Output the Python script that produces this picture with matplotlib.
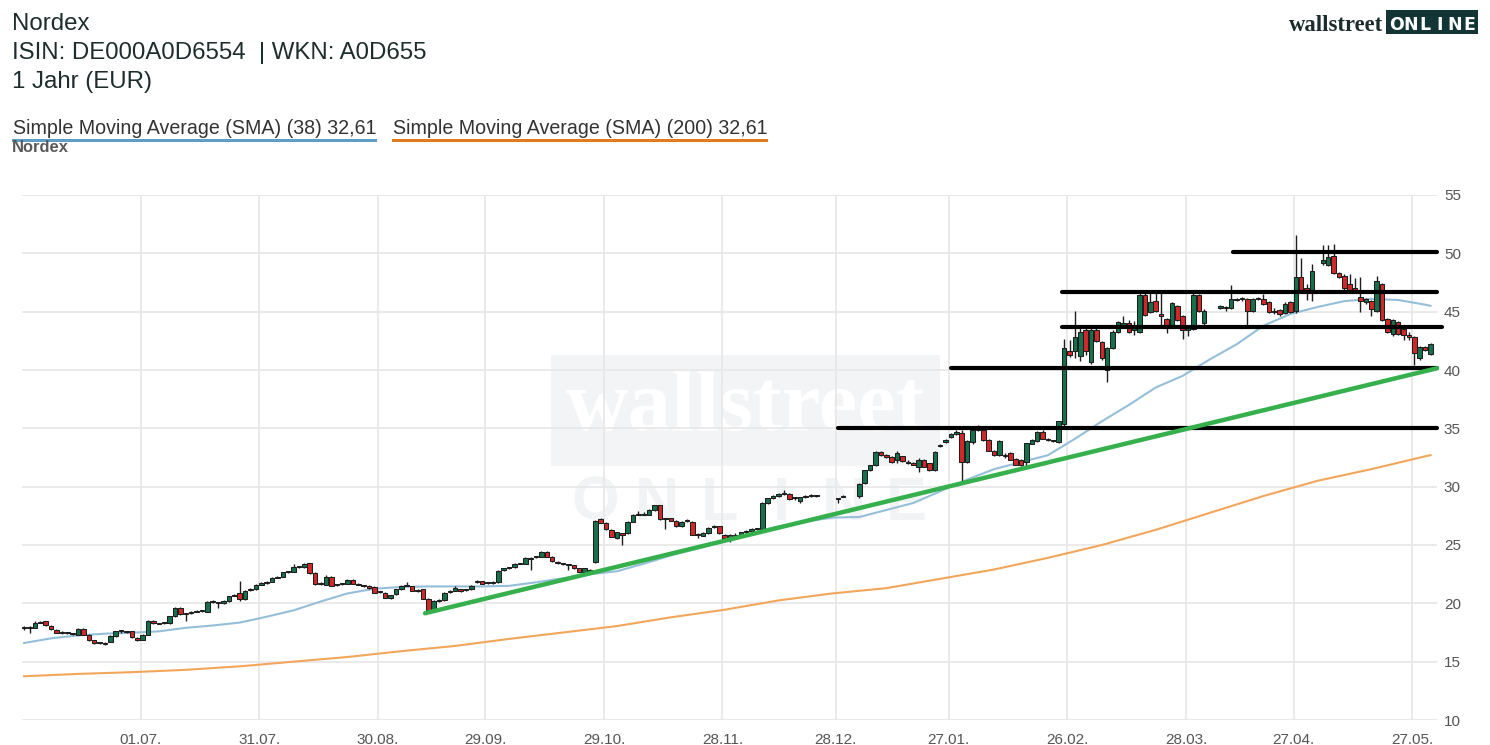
import numpy as np
import pandas as pd
import matplotlib
matplotlib.use("Agg")
import matplotlib.pyplot as plt
from matplotlib.patches import Rectangle

N = None
# ---------------- data (daily candles, one per weekday starting 2025-05-30) ----------------
opens = [
 17.85, 18.0, 17.9, 18.35, 18.45, 18.1, 17.75, 17.5, 17.45, 17.4,
 17.3, 17.8, 17.3, 16.85, 16.6, 16.55, 16.7, 17.2, 17.6, 17.6,
 17.6, 17.05, 16.9, 17.3, 18.5, 18.3, 18.3, 18.3, 18.9, 19.6,
 19.05, 19.2, 19.3, 19.35, 19.3, 20.15, 20.05, 20.0, 20.2, 20.65,
 20.85, 20.35, 21.15, 21.2, 21.6, 21.75, 21.85, 22.2, 22.3, 22.65,
 22.7, 23.1, 23.1, 23.45, 22.6, 21.7, 21.6, 22.3, 21.55, 21.65,
 21.7, 22.0, 21.7, 21.55, 21.5, 21.4, 20.95, 20.9, 20.45, 20.8,
 21.2, 21.5, 21.45, 21.1, 21.2, 20.4, 19.45, 20.2, 20.25, 20.95,
 21.1, 21.2, 21.15, 21.2, 21.8, 21.9, 21.75, 21.75, 21.8, 22.85,
 23.0, 23.1, 23.4, 23.4, 23.85, 23.95, 24.0, 24.4, 24.0, 23.55,
 23.45, 23.35, 23.25, 23.0, 22.7, 22.9, 23.55, 27.2, 26.9, 26.3,
 25.6, 26.0, 26.0, 27.0, 27.6, 27.65, 27.6, 28.0, 28.4, 27.2,
 27.3, 27.1, 26.6, 27.1, 27.0, 25.9, 25.8, 26.0, 26.55, 26.6,
 25.9, 25.5, 25.9, 25.8, 26.1, 26.2, 26.4, 26.4, 28.6, 29.0,
 29.2, 29.4, 29.4, 29.0, 28.8, 29.1, 29.2, 29.2, N, N,
 N, 28.95, 29.15, N, N, 29.2, 30.3, 31.4, 31.85, 33.0,
 32.7, 32.55, 32.3, 32.6, 32.15, 32.0, 31.7, 32.3, 32.0, 31.4,
 33.5, 33.8, 34.3, 34.5, 34.6, 32.1, 33.8, 34.9, 34.9, 34.0,
 33.1, 32.7, 32.75, 32.9, 32.4, 32.3, 32.1, 33.7, 33.9, 34.7,
 34.0, 33.9, 33.8, 35.4, 41.6, 41.6, 41.2, 43.4, 40.7, 43.4,
 42.4, 40.0, 41.9, 43.3, 43.9, 44.0, 43.4, 43.3, 46.4, 45.0,
 45.9, 44.8, 44.4, 43.9, 45.5, 44.6, 43.4, 43.5, 46.4, 44.0,
 N, N, 45.3, 45.4, 45.3, 46.0, 46.05, 46.1, 45.1, 46.1,
 46.1, 45.8, 45.0, 45.1, 44.9, 45.8, 45.1, 48.0, 47.0, 46.9,
 N, 49.2, 49.0, 49.8, 48.3, 48.1, 47.4, 47.0, 46.3, 45.8,
 45.9, 45.1, 47.4, 44.4, 43.1, 44.1, 43.5, 43.0, 42.8, 41.0,
 42.0, 41.4]
highs = [
 18.1, 18.05, 18.45, 18.5, 18.5, 18.15, 17.8, 17.6, 17.55, 17.45,
 17.85, 17.85, 17.35, 16.9, 16.7, 16.65, 17.25, 17.65, 17.65, 17.65,
 17.65, 17.1, 17.35, 18.55, 18.55, 18.35, 18.35, 18.95, 19.65, 19.65,
 19.2, 19.35, 19.4, 19.45, 20.2, 20.25, 20.15, 20.25, 20.65, 20.8,
 21.95, 21.15, 21.3, 21.65, 21.85, 21.9, 22.25, 22.35, 22.7, 22.8,
 23.4, 23.2, 23.5, 23.5, 22.65, 21.85, 22.4, 22.35, 21.7, 21.75,
 22.05, 22.05, 21.75, 21.6, 21.55, 21.45, 21.05, 20.95, 20.75, 21.25,
 21.55, 21.8, 21.5, 21.2, 21.25, 20.45, 20.25, 20.35, 20.95, 21.15,
 21.5, 21.25, 21.25, 21.55, 22.0, 21.95, 21.85, 21.9, 22.85, 23.05,
 23.15, 23.45, 23.45, 23.95, 23.95, 24.05, 24.45, 24.5, 24.05, 23.6,
 23.5, 23.4, 23.3, 23.05, 23.05, 22.95, 27.15, 27.3, 26.95, 26.35,
 26.15, 26.05, 27.05, 27.65, 27.9, 27.8, 28.05, 28.45, 28.45, 27.3,
 27.35, 27.15, 27.05, 27.25, 27.05, 26.0, 26.1, 26.55, 26.7, 26.65,
 25.95, 25.95, 26.0, 26.15, 26.3, 26.45, 26.5, 28.65, 29.05, 29.3,
 29.5, 29.7, 29.5, 29.1, 29.15, 29.25, 29.35, 29.3, N, N,
 N, 29.0, 29.3, N, N, 30.3, 31.45, 31.9, 33.05, 33.05,
 32.8, 32.6, 33.1, 32.65, 32.25, 32.1, 32.5, 32.35, 32.05, 33.05,
 33.7, 34.1, 34.6, 34.9, 34.9, 34.0, 35.0, 35.3, 34.95, 34.05,
 33.15, 34.0, 32.9, 33.0, 32.45, 32.35, 33.75, 34.05, 34.8, 34.9,
 34.2, 34.0, 35.65, 42.7, 42.6, 45.1, 43.6, 43.9, 43.8, 43.9,
 42.5, 42.0, 43.4, 44.2, 44.6, 44.3, 44.2, 46.7, 46.8, 46.7,
 46.7, 46.9, 44.5, 45.8, 45.6, 44.7, 43.8, 46.6, 46.5, 45.2,
 N, N, 45.6, 45.5, 47.3, 46.2, 46.3, 46.2, 46.2, 46.3,
 46.5, 45.9, 45.3, 45.2, 45.8, 45.9, 51.6, 49.6, 47.4, 49.1,
 N, 50.7, 50.7, 50.8, 48.4, 48.2, 48.2, 47.9, 48.0, 46.2,
 46.0, 48.1, 47.5, 44.5, 44.4, 44.2, 43.6, 43.3, 42.9, 42.1,
 42.1, 42.3]
lows = [
 17.75, 17.5, 17.85, 18.3, 18.1, 17.75, 17.45, 17.4, 17.35, 17.25,
 17.25, 17.25, 16.8, 16.55, 16.5, 16.45, 16.65, 17.15, 17.5, 17.45,
 17.05, 16.8, 16.85, 17.25, 18.25, 18.2, 18.2, 18.25, 18.85, 19.0,
 18.45, 19.1, 19.25, 19.3, 19.25, 20.05, 19.6, 19.95, 20.15, 20.6,
 20.2, 20.3, 21.1, 21.15, 21.55, 21.65, 21.8, 22.15, 22.25, 22.6,
 22.65, 23.0, 23.05, 22.55, 21.6, 21.6, 21.55, 21.45, 21.5, 21.6,
 21.65, 21.65, 21.55, 21.4, 21.25, 20.85, 20.9, 20.45, 20.4, 20.75,
 21.15, 21.45, 21.05, 21.0, 20.35, 19.2, 19.4, 20.15, 20.2, 20.9,
 21.05, 21.0, 21.1, 21.15, 21.75, 21.65, 21.7, 21.7, 21.75, 22.8,
 22.95, 23.05, 23.35, 23.35, 22.9, 23.9, 23.95, 23.95, 23.55, 23.4,
 23.3, 22.9, 22.95, 22.65, 22.65, 22.6, 23.5, 26.85, 26.3, 25.65,
 25.55, 25.0, 25.95, 26.95, 27.55, 27.55, 27.55, 27.95, 27.15, 26.4,
 27.05, 26.55, 26.55, 27.0, 25.85, 25.6, 25.75, 25.95, 26.5, 25.95,
 25.55, 25.3, 25.75, 25.75, 26.05, 26.15, 26.3, 26.35, 28.55, 28.95,
 29.15, 29.3, 28.9, 28.9, 28.6, 29.05, 29.15, 29.1, N, N,
 N, 28.6, 29.1, N, N, 29.0, 30.25, 31.35, 31.8, 32.65,
 32.45, 32.05, 32.0, 32.15, 31.95, 31.85, 31.3, 31.65, 31.35, 31.35,
 33.4, 33.75, 34.2, 34.4, 30.3, 32.0, 33.7, 34.8, 33.95, 33.05,
 32.6, 32.65, 32.5, 32.25, 31.85, 31.8, 31.7, 33.65, 33.85, 34.05,
 33.9, 33.8, 33.75, 35.2, 41.1, 41.0, 40.8, 41.3, 40.5, 42.4,
 40.9, 39.0, 41.8, 43.2, 43.8, 43.2, 43.0, 43.2, 44.6, 44.9,
 45.0, 43.8, 43.2, 43.8, 44.2, 42.7, 42.9, 43.4, 45.0, 43.7,
 N, N, 45.2, 45.1, 45.2, 45.9, 45.95, 43.9, 45.0, 46.0,
 45.6, 44.9, 44.8, 44.6, 44.8, 44.9, 44.9, 46.8, 46.0, 45.9,
 N, 49.0, 48.9, 48.2, 47.9, 46.9, 46.8, 46.8, 45.0, 45.7,
 44.6, 45.0, 44.2, 43.2, 42.9, 43.0, 42.6, 42.6, 40.4, 40.9,
 41.6, 41.3]
closes = [
 18.0, 17.9, 18.35, 18.4, 18.15, 17.8, 17.5, 17.5, 17.45, 17.35,
 17.8, 17.3, 16.85, 16.6, 16.6, 16.55, 17.2, 17.6, 17.6, 17.55,
 17.1, 16.9, 17.3, 18.5, 18.3, 18.25, 18.3, 18.9, 19.6, 19.05,
 19.1, 19.3, 19.35, 19.4, 20.15, 20.1, 20.0, 20.2, 20.6, 20.7,
 20.35, 21.1, 21.2, 21.6, 21.75, 21.8, 22.2, 22.3, 22.65, 22.7,
 23.1, 23.1, 23.4, 22.6, 21.65, 21.7, 22.3, 21.5, 21.6, 21.7,
 22.0, 21.7, 21.6, 21.5, 21.3, 20.9, 21.0, 20.5, 20.7, 21.2,
 21.5, 21.6, 21.1, 21.15, 20.4, 19.4, 20.2, 20.3, 20.9, 21.1,
 21.3, 21.1, 21.2, 21.5, 21.9, 21.7, 21.8, 21.8, 22.8, 23.0,
 23.1, 23.4, 23.4, 23.9, 23.8, 24.0, 24.4, 24.0, 23.6, 23.5,
 23.4, 23.3, 23.0, 22.7, 23.0, 22.7, 27.1, 26.9, 26.35, 25.7,
 26.1, 25.9, 27.0, 27.6, 27.7, 27.6, 28.0, 28.4, 27.2, 27.2,
 27.1, 26.6, 27.0, 27.05, 25.9, 25.85, 26.0, 26.5, 26.6, 26.0,
 25.6, 25.9, 25.8, 26.1, 26.2, 26.4, 26.4, 28.6, 29.0, 29.2,
 29.4, 29.4, 28.95, 29.0, 29.1, 29.2, 29.25, 29.2, N, N,
 N, 28.95, 29.2, N, N, 30.25, 31.4, 31.85, 33.0, 32.7,
 32.55, 32.1, 32.9, 32.2, 32.05, 31.9, 32.3, 31.7, 31.4, 33.0,
 33.6, 34.0, 34.5, 34.7, 32.1, 33.9, 34.9, 34.9, 34.0, 33.1,
 32.7, 33.9, 32.6, 32.3, 31.9, 31.9, 33.7, 34.0, 34.7, 34.1,
 34.05, 33.9, 35.6, 41.9, 41.3, 42.85, 43.3, 41.6, 43.4, 42.5,
 41.0, 41.9, 43.3, 44.1, 44.0, 43.3, 43.6, 46.4, 44.7, 45.8,
 45.1, 44.6, 43.9, 45.7, 44.3, 43.4, 43.6, 46.4, 45.1, 45.1,
 N, N, 45.5, 45.3, 46.1, 46.05, 46.1, 45.1, 46.1, 46.2,
 45.7, 45.0, 45.1, 44.8, 45.7, 45.0, 48.0, 46.9, 46.8, 48.5,
 N, 49.4, 49.7, 48.3, 48.0, 47.0, 46.9, 46.9, 45.9, 46.1,
 45.2, 47.6, 44.3, 43.3, 44.3, 43.1, 43.0, 42.8, 41.5, 42.0,
 41.7, 42.2]

# moving averages (SMA38 every 5 sessions, SMA200 every 10 sessions)
sma38_values = [16.6, 17.0, 17.25, 17.4, 17.48, 17.6, 17.9, 18.1, 18.35, 18.85,
                19.4, 20.15, 20.85, 21.25, 21.4, 21.45, 21.45, 21.45, 21.5, 21.8,
                22.15, 22.5, 22.75, 23.4, 24.1, 24.7, 25.35, 26.0, 26.6, 27.0,
                27.35, 27.4, 28.0, 28.6, 29.6, 30.6, 31.5, 32.1, 32.7, 34.1,
                35.6, 37.0, 38.5, 39.5, 40.9, 42.2, 43.8, 44.8, 45.4, 45.9,
                46.1, 46.0, 45.6, 45.5]
sma38_session = list(range(0, 261, 5)) + [261]
sma200_values = [13.75, 13.95, 14.1, 14.3, 14.6, 15.0, 15.4, 15.9, 16.35, 16.95,
                 17.5, 18.05, 18.8, 19.45, 20.25, 20.85, 21.3, 22.1, 22.9, 23.9,
                 25.0, 26.3, 27.75, 29.2, 30.5, 31.5, 32.6, 32.7]
sma200_session = list(range(0, 261, 10)) + [261]

# hand-drawn support / resistance levels and trend line (session index, price)
level_price = [35.0, 40.2, 43.65, 46.65, 50.1]
level_from = [151.0, 172.0, 192.6, 192.6, 224.3]
level_to = [262.2, 262.2, 263.1, 262.2, 262.2]
trend_session = [74.4, 262.2]
trend_price = [19.15, 40.15]

tick_labels = ["01.07.", "31.07.", "30.08.", "29.09.", "29.10.", "28.11.",
               "28.12.", "27.01.", "26.02.", "28.03.", "27.04.", "27.05."]
tick_dates = ["2025-07-01", "2025-07-31", "2025-08-30", "2025-09-29", "2025-10-29",
              "2025-11-28", "2025-12-28", "2026-01-27", "2026-02-26", "2026-03-28",
              "2026-04-27", "2026-05-27"]
y_ticks = [10, 15, 20, 25, 30, 35, 40, 45, 50, 55]

# ---------------- figure ----------------
W, H = 1490, 745
fig = plt.figure(figsize=(W / 100, H / 100), dpi=100)
fig.patch.set_facecolor("white")


def fx(x):
    return x / W


def fy(y):
    return 1 - y / H


ax = fig.add_axes([fx(22), fy(720), (1437 - 22) / W, (720 - 195) / H])
ax.set_facecolor("white")
ax.set_xlim(-0.4, 262.2)
ax.set_ylim(10, 55)
for s in ax.spines.values():
    s.set_visible(False)

dates = pd.bdate_range("2025-05-30", periods=len(closes))
tick_pos = np.searchsorted(dates.values, pd.to_datetime(tick_dates).values) - 0.4

ax.set_xticks(tick_pos)
ax.set_xticklabels(tick_labels)
ax.set_yticks(y_ticks)
ax.set_yticklabels([str(v) for v in y_ticks])
ax.yaxis.tick_right()
ax.tick_params(axis="both", length=0, labelsize=11, colors="#555555")
ax.tick_params(axis="y", pad=5)
ax.tick_params(axis="x", pad=9)
for lab in ax.get_xticklabels() + ax.get_yticklabels():
    lab.set_fontfamily("Liberation Sans")
ax.set_axisbelow(True)
ax.grid(True, color="#e8e8e8", linewidth=1.3)

# watermark
ax.add_patch(Rectangle((0.374, 0.484), 0.275, 0.211, transform=ax.transAxes,
                       facecolor="#f3f4f6", edgecolor="none", zorder=0.2))
wm = ax.text(0.511, 0.552, "wallstreet", transform=ax.transAxes, ha="center",
             va="baseline", fontsize=62, fontweight="bold", family="Liberation Serif",
             color="white", zorder=0.3)
for ch, xc in zip("ONLINE", np.linspace(0.405, 0.625, 6)):
    ax.text(xc, 0.381, ch, transform=ax.transAxes, ha="center", va="baseline",
            fontsize=44, fontweight="bold", family="Liberation Sans",
            color="#f2f3f5", zorder=0.3)

# moving averages
ax.plot(sma200_session, sma200_values, color="#f2a65a", lw=1.5, zorder=2)
ax.plot(sma38_session, sma38_values, color="#95bfd9", lw=1.5, zorder=2)

# candles
o = np.array(opens, dtype=float)
h = np.array(highs, dtype=float)
l = np.array(lows, dtype=float)
c = np.array(closes, dtype=float)
idx = np.arange(len(c))
valid = ~np.isnan(c)
up = valid & (c >= o)
dn = valid & (c < o)
ax.vlines(idx[valid], l[valid], h[valid], color="#1e1e1e", lw=1.0, zorder=3)
lo = np.minimum(o, c)
bh = np.maximum(np.abs(c - o), 0.08)
ax.bar(idx[up], bh[up], bottom=lo[up], width=0.84, color="#17704c",
       edgecolor="#1e1e1e", linewidth=0.75, zorder=4)
ax.bar(idx[dn], bh[dn], bottom=lo[dn], width=0.84, color="#cf2a2a",
       edgecolor="#1e1e1e", linewidth=0.75, zorder=4)

# drawn lines
for p, a, b in zip(level_price, level_from, level_to):
    ax.plot([a, b], [p, p], color="black", lw=3.0, solid_capstyle="round",
            zorder=5, clip_on=False)
ax.plot(trend_session, trend_price, color="#35b04c", lw=3.2, solid_capstyle="round",
        zorder=5, clip_on=False)

# ---------------- header texts ----------------
tcol = "#1e2c2c"
t1 = fig.text(fx(12), fy(30), "Nordex", fontsize=17.3, family="Liberation Sans",
              color=tcol, va="baseline")
t2 = fig.text(fx(12), fy(59), "ISIN: DE000A0D6554  | WKN: A0D655", fontsize=17.3,
              family="Liberation Sans", color=tcol, va="baseline")
t3 = fig.text(fx(12), fy(88), "1 Jahr (EUR)", fontsize=17.3, family="Liberation Sans",
              color=tcol, va="baseline")

l1 = fig.text(fx(13), fy(134), "Simple Moving Average (SMA) (38) 32,61", fontsize=14,
              family="Liberation Sans", color="#333333", va="baseline")
l2 = fig.text(fx(393), fy(134), "Simple Moving Average (SMA) (200) 32,61", fontsize=14,
              family="Liberation Sans", color="#333333", va="baseline")
fig.patches.append(Rectangle((fx(12), fy(142)), 365 / W, 3 / H, transform=fig.transFigure,
                             facecolor="#5d9ec4", edgecolor="none"))
fig.patches.append(Rectangle((fx(392), fy(142)), 376 / W, 3 / H, transform=fig.transFigure,
                             facecolor="#e07c1c", edgecolor="none"))
n1 = fig.text(fx(12), fy(152), "Nordex", fontsize=11, fontweight="bold",
              family="Liberation Sans", color="#5a5a5a", va="baseline")

# logo
fig.patches.append(Rectangle((fx(1386), fy(34)), 92 / W, 24 / H, transform=fig.transFigure,
                             facecolor="#133535", edgecolor="none"))
lg1 = fig.text(fx(1383), fy(31), "wallstreet", fontsize=16, family="Liberation Serif",
               fontweight="bold", color="#1c2b2b", va="baseline", ha="right")
for ch, xc in zip("ONLINE", np.linspace(1396, 1469, 6)):
    fig.text(fx(xc), fy(29.5), ch, fontsize=12.5, family="DejaVu Sans",
             fontweight="bold", color="white", va="baseline", ha="center")

fig.canvas.draw()
rend = fig.canvas.get_renderer()
for t, wpx in [(t2, 413), (l1, 363), (l2, 374), (n1, 57), (lg1, 94), (wm, 360)]:
    bb = t.get_window_extent(rend)
    t.set_fontsize(t.get_fontsize() * wpx / bb.width)
t1.set_fontsize(t2.get_fontsize())
t3.set_fontsize(t2.get_fontsize())

fig.savefig("out.png", dpi=100, facecolor="white")
